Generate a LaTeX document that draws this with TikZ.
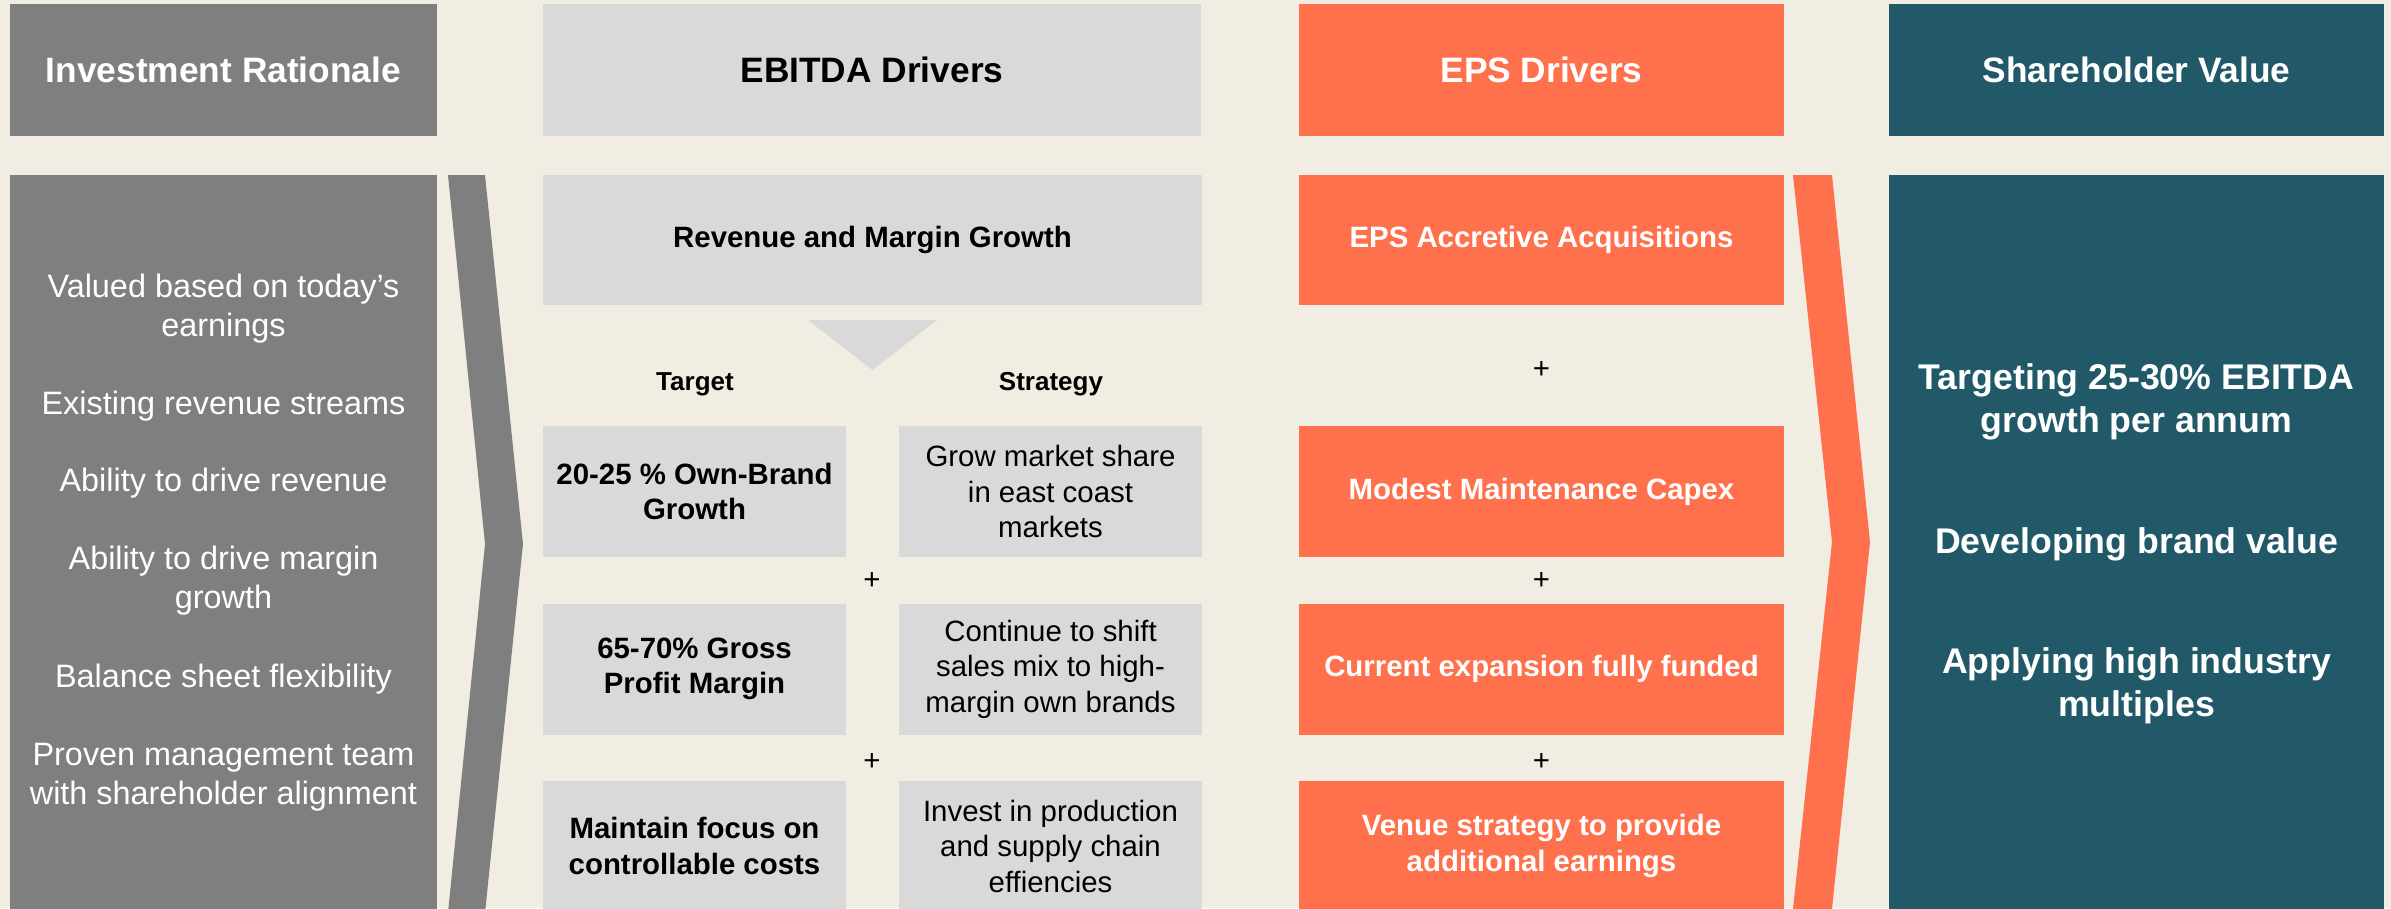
\documentclass[tikz,border=0pt]{standalone}
\usepackage{fontspec}
\setmainfont{Liberation Sans}
\definecolor{cream}{RGB}{242,237,226}
\definecolor{dgray}{RGB}{127,127,127}
\definecolor{lgray}{RGB}{217,217,217}
\definecolor{orng}{RGB}{255,112,76}
\definecolor{teal}{RGB}{34,89,104}
\begin{document}
\begin{tikzpicture}[x=1pt,y=-1pt,
  blk/.style={rectangle, inner sep=0pt, outer sep=0pt, align=center},
  hdr/.style={blk, minimum height=132pt, font=\fontsize{35.3}{41}\selectfont\bfseries},
  row/.style={blk, minimum height=131pt},
  tbox/.style={row, fill=lgray, minimum width=303pt, font=\fontsize{29.4}{35.5}\selectfont\bfseries},
  sbox/.style={row, fill=lgray, minimum width=303pt, font=\fontsize{29.4}{35.5}\selectfont},
  ebox/.style={row, fill=orng, text=white, minimum width=485pt, font=\fontsize{29.4}{35.5}\selectfont\bfseries},
  plus/.style={inner sep=0pt, font=\fontsize{29.4}{35.5}\selectfont},
  lbl/.style={inner sep=0pt, text height=0.72em, text depth=0pt, font=\fontsize{26}{30}\selectfont\bfseries},
  ltxt/.style={inner sep=0pt, align=center, text=white, font=\fontsize{32.4}{39}\selectfont},
  rtxt/.style={inner sep=0pt, align=center, text=white, font=\fontsize{35.7}{43}\selectfont\bfseries}
]
\useasboundingbox (0,0) rectangle (2391,908);
\clip (0,0) rectangle (2391,908);
\fill[cream] (0,0) rectangle (2391,908);

% headers
\node[hdr, fill=dgray, text=white, minimum width=427pt] (h1) at (223.5,70) {Investment Rationale};
\node[hdr, fill=lgray, text=black, minimum width=658pt] (h2) at (872,70) {EBITDA Drivers};
\node[hdr, fill=orng, text=white, minimum width=485pt] (h3) at (1541.5,70) {EPS Drivers};
\node[hdr, fill=teal, text=white, minimum width=495pt] (h4) at (2136.5,70) {Shareholder Value};

% left panel
\node[blk, fill=dgray, minimum width=427pt, minimum height=736pt] (lp) at (223.5,543) {};
\node[ltxt] (l1) at (223.5,308.5) {Valued based on today’s\\earnings};
\node[ltxt] (l2) at (223.5,406) {Existing revenue streams};
\node[ltxt] (l3) at (223.5,483) {Ability to drive revenue};
\node[ltxt] (l4) at (223.5,581) {Ability to drive margin\\growth};
\node[ltxt] (l5) at (223.5,679) {Balance sheet flexibility};
\node[ltxt] (l6) at (223.5,777) {Proven management team\\with shareholder alignment};

% gray chevron
\fill[dgray] (448,175) -- (485,175) -- (523,544) -- (485,913) -- (448,913) -- (485,544) -- cycle;

% EBITDA column
\node[blk, fill=lgray, minimum width=659pt, minimum height=130pt, font=\fontsize{29.4}{35.5}\selectfont\bfseries] (rev) at (872.5,240) {Revenue and Margin Growth};
\fill[lgray] (808,320) -- (937,320) -- (872.5,370) -- cycle;
\node[lbl] (tg) at (695,387) {Target};
\node[lbl] (st) at (1051,387) {Strategy};

\node[tbox] (t1) at (694.5,491.5) {20-25 \% Own-Brand\\Growth};
\node[sbox] (s1) at (1050.5,491.5) {Grow market share\\in east coast\\markets};
\node[plus] (p1) at (872,581) {+};
\node[tbox] (t2) at (694.5,669) {65-70\% Gross\\Profit Margin};
\node[sbox] (s2) at (1050.5,669) {Continue to shift\\sales mix to high-\\margin own brands};
\node[plus] (p2) at (872,762) {+};
\node[tbox] (t3) at (694.5,846) {Maintain focus on\\controllable costs};
\node[sbox] (s3) at (1050.5,846) {Invest in production\\and supply chain\\effiencies};

% EPS column
\node[ebox, minimum height=130pt] (e1) at (1541.5,240) {EPS Accretive Acquisitions};
\node[plus] (q1) at (1541.5,370) {+};
\node[ebox] (e2) at (1541.5,491.5) {Modest Maintenance Capex};
\node[plus] (q2) at (1541.5,581) {+};
\node[ebox] (e3) at (1541.5,669) {Current expansion fully funded};
\node[plus] (q3) at (1541.5,762) {+};
\node[ebox] (e4) at (1541.5,846) {Venue strategy to provide\\additional earnings};

% orange chevron
\fill[orng] (1793,175) -- (1832,175) -- (1870,542) -- (1832,909) -- (1793,909) -- (1832,542) -- cycle;

% shareholder panel
\node[blk, fill=teal, minimum width=495pt, minimum height=736pt] (rp) at (2136.5,543) {};
\node[rtxt] (r1) at (2136.5,402) {Targeting 25-30\% EBITDA\\growth per annum};
\node[rtxt] (r2) at (2136.5,544) {Developing brand value};
\node[rtxt] (r3) at (2136.5,686) {Applying high industry\\multiples};
\end{tikzpicture}
\end{document}
